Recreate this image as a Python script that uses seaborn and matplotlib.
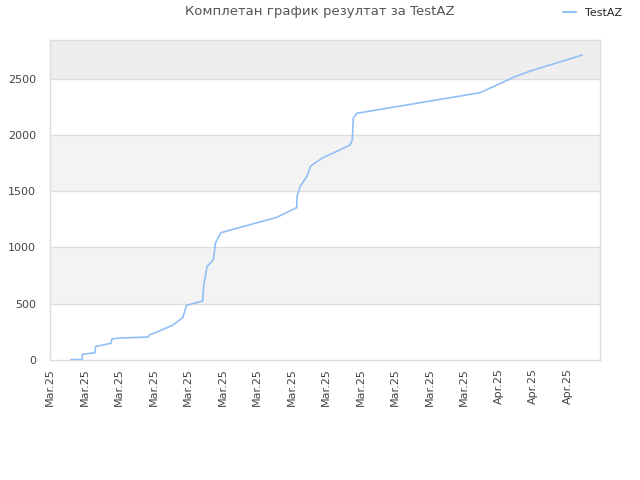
import numpy as np
import pandas as pd
import matplotlib
matplotlib.use("Agg")
import matplotlib.pyplot as plt
from matplotlib.lines import Line2D
import seaborn as sns

title = "Комплетан график резултат за TestAZ"
series_name = "TestAZ"
start_date = "2025-03-06"
# day offsets from start date and cumulative score
day_offsets = [1.22, 1.86, 1.88, 2.61, 2.64, 3.54, 3.59, 4.06, 5.68, 5.80, 6.38, 7.13,
               7.69, 7.92, 8.85, 8.90, 9.10, 9.47, 9.59, 9.91, 13.14, 14.30, 14.32,
               14.49, 14.88, 15.11, 15.75, 17.39, 17.52, 17.58, 17.78, 24.93, 26.86,
               27.83, 30.86]
scores = [3, 5, 50, 65, 120, 148, 188, 195, 204, 225, 260, 311,
          376, 486, 524, 650, 830, 890, 1040, 1131, 1267, 1353, 1451,
          1539, 1628, 1723, 1791, 1909, 1954, 2147, 2191, 2374, 2510,
          2566, 2709]
y_ticks = [0, 500, 1000, 1500, 2000, 2500]

sns.set_style("white")
plt.rcParams['font.family'] = ['DejaVu Sans']

t0 = pd.Timestamp(start_date)
df = pd.DataFrame({
    "date": [t0 + pd.Timedelta(days=d) for d in day_offsets],
    "score": scores,
    "series": series_name,
})

fig = plt.figure(figsize=(6.4, 4.8), dpi=100)
ax = fig.add_axes([50/640, 120/480, 550/640, 320/480])

ymax = 2842
# alternating bands
for lo, hi in [(500, 1000), (1500, 2000)]:
    ax.axhspan(lo, hi, color="#f3f3f3", zorder=0, lw=0)
ax.axhspan(2500, ymax, color="#eeeeee", zorder=0, lw=0)
for yv in y_ticks[1:]:
    ax.axhline(yv, color="#dddddd", lw=1, zorder=1)

sns.lineplot(data=df, x="date", y="score", ax=ax, color="#90c0f5", lw=1.2,
             legend=False, zorder=3)

ax.set_ylim(0, ymax)
ax.set_xlim(t0, t0 + pd.Timedelta(days=31.88))
ax.set_yticks(y_ticks)
ticks = [t0 + pd.Timedelta(days=2*i) for i in range(16)]
ax.set_xticks(ticks)
ax.set_xticklabels([t.strftime("%b.%y") for t in ticks], rotation=90, fontsize=8, color="#444444")
ax.tick_params(axis="y", labelsize=8, labelcolor="#444444", length=0, pad=10)
ax.tick_params(axis="x", length=0, pad=6)
ax.set_xlabel("")
ax.set_ylabel("")
for s in ax.spines.values():
    s.set_color("#dddddd")
    s.set_linewidth(1)

fig.text(0.5, 1 - 12/480, title, ha="center", va="center", fontsize=9.5, color="#555555")
h = Line2D([0], [0], color="#90c0f5", lw=1.5)
fig.legend([h], [series_name], loc="center right", bbox_to_anchor=(1 - 8/640, 1 - 13/480),
           frameon=False, fontsize=8, handlelength=1.2, handletextpad=0.8)

fig.savefig("out.png", dpi=100)
